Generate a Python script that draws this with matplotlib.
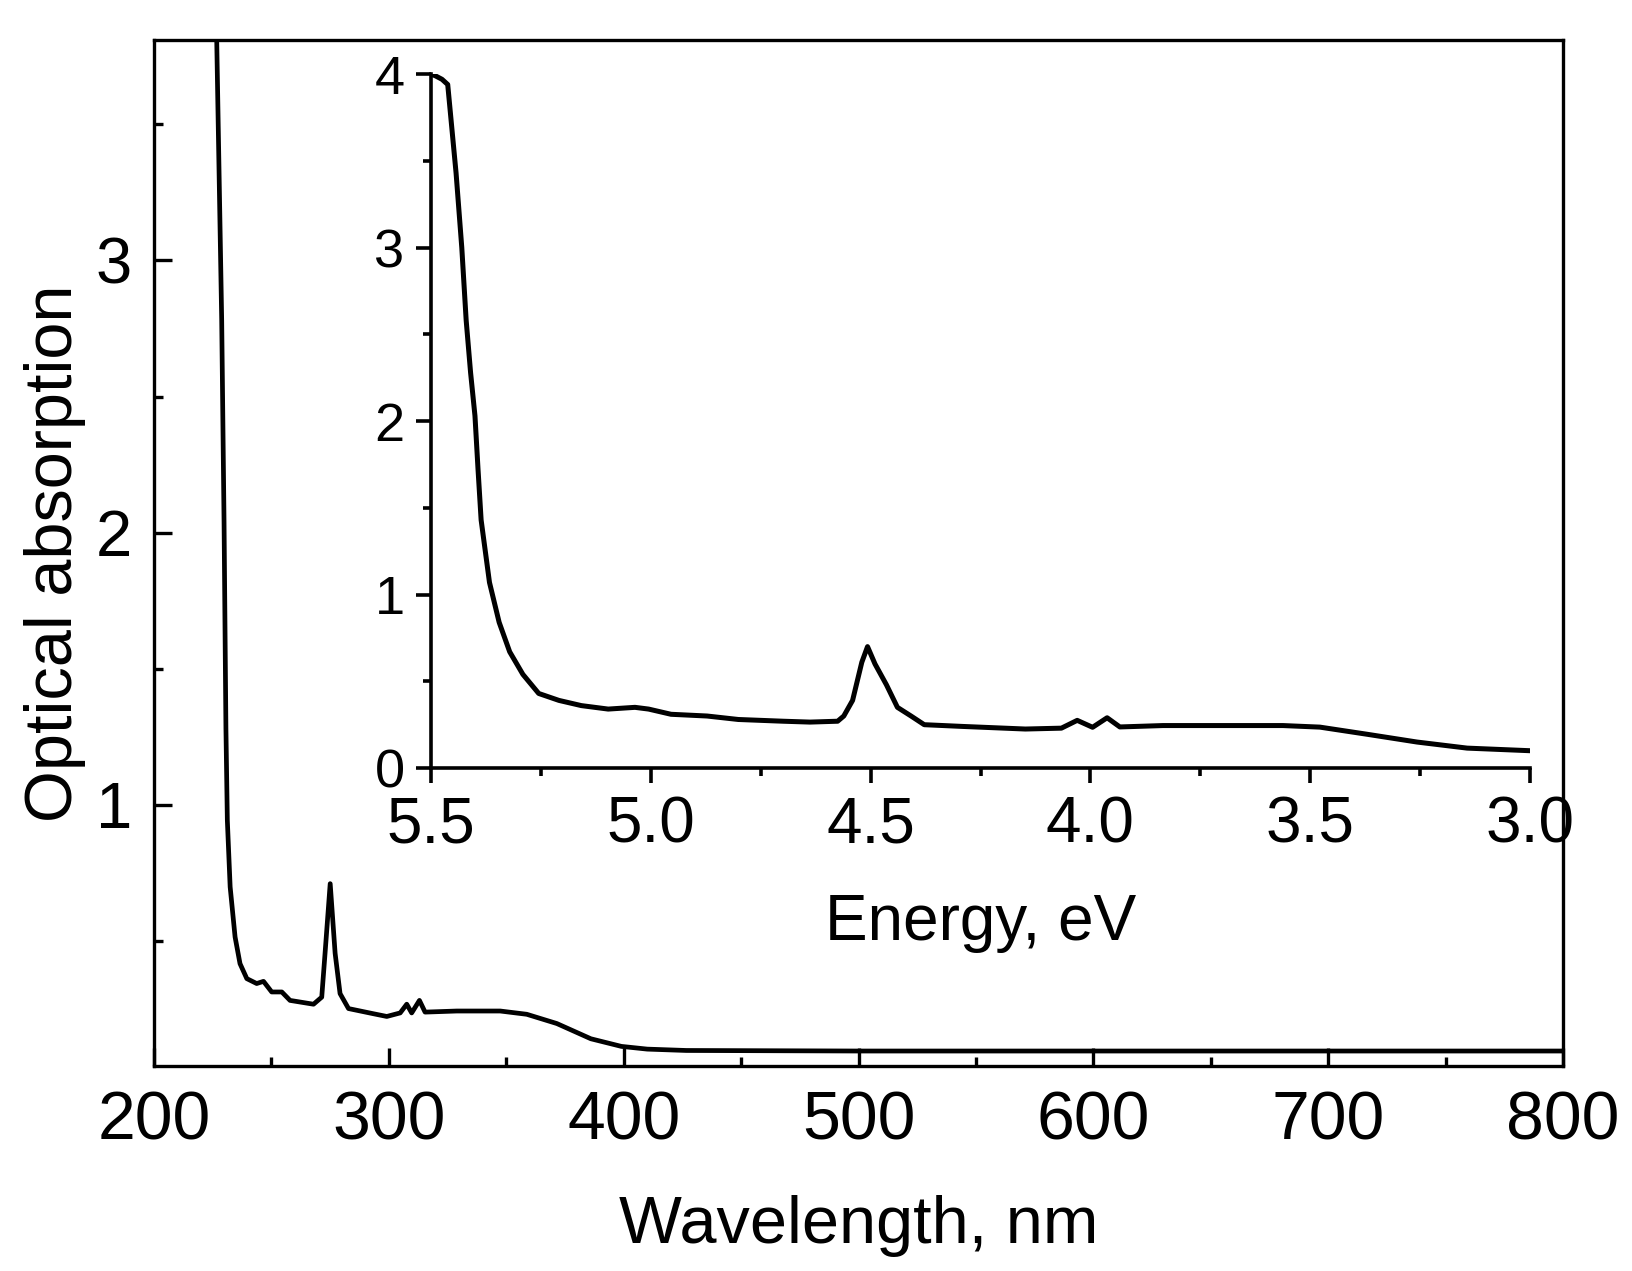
import matplotlib

matplotlib.use("Agg")
import matplotlib.pyplot as plt
from matplotlib.ticker import MultipleLocator, FormatStrFormatter

plt.rcParams["font.family"] = ["Liberation Sans", "DejaVu Sans"]

# main spectrum: wavelength (nm) vs optical absorption
wavelength = [226.0, 226.7, 228.8, 229.8, 230.6, 231.2, 232.4, 234.5, 236.6, 239.5,
              243.7, 246.6, 250.1, 254.4, 257.9, 267.9, 271.4, 272.8, 275.0, 277.1,
              279.2, 282.8, 293.4, 299.1, 304.8, 307.6, 309.7, 313.0, 315.4, 328.9,
              347.4, 358.7, 371.5, 386.0, 399.0, 410.0, 426.6, 500.0, 600.0, 700.0, 800.0]
absorption = [4.10, 3.80, 2.78, 2.04, 1.28, 0.943, 0.698, 0.514, 0.416, 0.361,
              0.343, 0.351, 0.312, 0.312, 0.281, 0.267, 0.293, 0.453, 0.710, 0.454,
              0.306, 0.251, 0.232, 0.222, 0.235, 0.267, 0.235, 0.281, 0.238, 0.242,
              0.242, 0.230, 0.196, 0.140, 0.112, 0.102, 0.097, 0.095, 0.095, 0.095, 0.095]

# inset: same spectrum vs photon energy (eV)
energy = [5.50, 5.49, 5.475, 5.462, 5.443, 5.43, 5.42, 5.41, 5.40, 5.393,
          5.386, 5.367, 5.345, 5.321, 5.291, 5.255, 5.209, 5.158, 5.097, 5.036,
          5.005, 4.954, 4.872, 4.801, 4.699, 4.638, 4.575, 4.561, 4.541, 4.520,
          4.507, 4.490, 4.464, 4.439, 4.408, 4.378, 4.291, 4.148, 4.066, 4.030,
          3.995, 3.962, 3.933, 3.835, 3.562, 3.478, 3.371, 3.257, 3.143, 3.0]
absorption_e = [4.00, 3.99, 3.97, 3.94, 3.43, 3.00, 2.58, 2.28, 2.03, 1.72,
                1.43, 1.07, 0.84, 0.67, 0.54, 0.43, 0.39, 0.36, 0.34, 0.35,
                0.34, 0.31, 0.30, 0.28, 0.27, 0.265, 0.27, 0.30, 0.39, 0.61,
                0.70, 0.60, 0.48, 0.35, 0.30, 0.25, 0.24, 0.225, 0.23, 0.275,
                0.235, 0.29, 0.237, 0.245, 0.245, 0.236, 0.195, 0.15, 0.115, 0.10]

fig = plt.figure(figsize=(16.32, 12.71), dpi=100)

# --- main axes ---
ax = fig.add_axes([0.0944, 0.1613, 0.8634, 0.8072])
ax.plot(wavelength, absorption, color="black", lw=3.4, solid_joinstyle="round")
ax.set_xlim(200, 800)
ax.set_ylim(0.04, 3.81)
ax.xaxis.set_major_locator(MultipleLocator(100))
ax.xaxis.set_minor_locator(MultipleLocator(50))
ax.yaxis.set_major_locator(MultipleLocator(1))
ax.yaxis.set_minor_locator(MultipleLocator(0.5))
for s in ax.spines.values():
    s.set_linewidth(2.4)
ax.tick_params(which="both", direction="in", width=2.4)
ax.tick_params(which="major", length=13)
ax.tick_params(which="minor", length=6.5)
ax.tick_params(axis="x", labelsize=49, pad=17)
ax.tick_params(axis="y", labelsize=47, pad=16)
ax.set_xlabel("Wavelength, nm", fontsize=48, va="top")
ax.xaxis.set_label_coords(0.5, -0.1257)
ax.set_ylabel("Optical absorption", fontsize=48)
ax.yaxis.set_label_coords(-0.048, 0.5)

# --- inset ---
ins = fig.add_axes([0.2641, 0.3957, 0.6734, 0.546])
ins.set_facecolor("none")
ins.plot(energy, absorption_e, color="black", lw=3.6, solid_joinstyle="round")
ins.set_xlim(5.5, 3.0)
ins.set_ylim(0, 4)
ins.xaxis.set_major_locator(MultipleLocator(0.5))
ins.xaxis.set_minor_locator(MultipleLocator(0.25))
ins.xaxis.set_major_formatter(FormatStrFormatter("%.1f"))
ins.yaxis.set_major_locator(MultipleLocator(1))
ins.yaxis.set_minor_locator(MultipleLocator(0.5))
ins.spines["top"].set_visible(False)
ins.spines["right"].set_visible(False)
for side in ("left", "bottom"):
    ins.spines[side].set_linewidth(2.6)
ins.tick_params(which="both", direction="out", width=2.6)
ins.tick_params(which="major", length=11)
ins.tick_params(which="minor", length=5.5)
ins.tick_params(axis="x", labelsize=46, pad=9)
ins.tick_params(axis="y", labelsize=39, pad=8)
ins.set_xlabel("Energy, eV", fontsize=46, va="top")
ins.xaxis.set_label_coords(0.5, -0.180)

fig.savefig("out.png", dpi=100)
